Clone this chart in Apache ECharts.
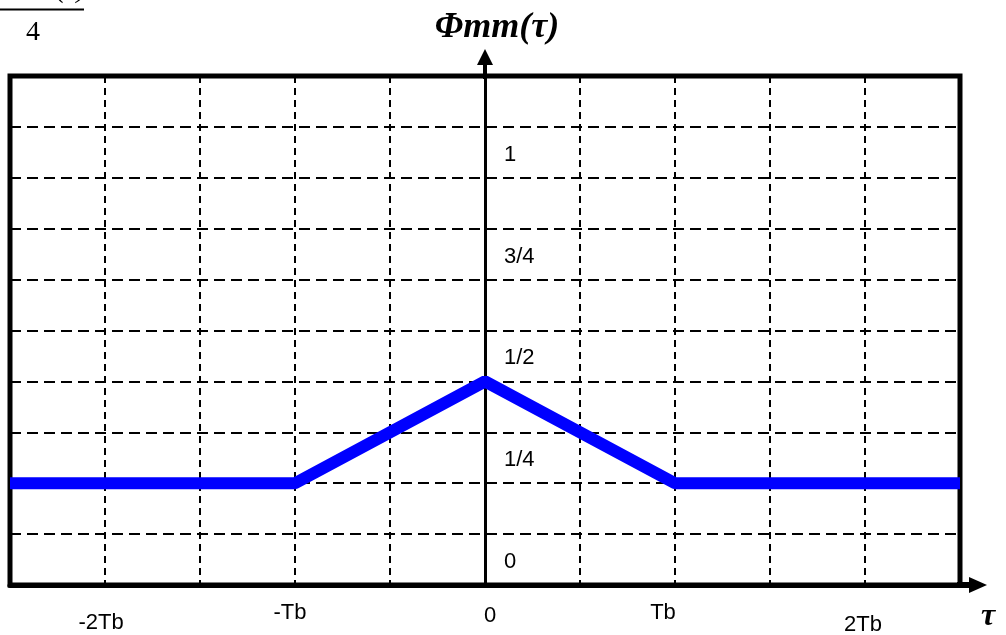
<!DOCTYPE html>
<html>
<head>
<meta charset="utf-8">
<script src="https://cdn.jsdelivr.net/npm/echarts@6/dist/echarts.min.js"></script>
<style>
  html, body { margin: 0; padding: 0; background: #fff; }
  #chart { width: 1006px; height: 635px; }
</style>
</head>
<body>
<div id="chart"></div>
<script>
// tau in units of Tb/2
var tauValues = [-5, -2, 0, 2, 5];
var phiValues = [0.25, 0.25, 0.5, 0.25, 0.25];

var xLabelValues = [-4, -2, 0, 2, 4];
var xLabelTexts = ['-2Tb', '-Tb', '0', 'Tb', '2Tb'];
var yLabelValues = [0, 0.25, 0.5, 0.75, 1];
var yLabelTexts = ['0', '1/4', '1/2', '3/4', '1'];

var chart = echarts.init(document.getElementById('chart'));

var lineData = tauValues.map(function (t, i) { return [t, phiValues[i]]; });

// arrow head + short shaft, tip pointing up
var yArrow = 'path://M8,0 L16,16 L10,16 L10,30 L6,30 L6,16 L0,16 Z';
var xArrow = 'path://M8,0 L16,18 L11,18 L11,30 L5,30 L5,18 L0,18 Z';

var labelFont = 'Liberation Sans, Arial, sans-serif';
var serifFont = 'Liberation Serif, Times New Roman, serif';

function xRich(pad) {
  return { fontFamily: labelFont, fontSize: 22, color: '#000', padding: pad };
}

var option = {
  animation: false,
  backgroundColor: '#fff',
  grid: {
    show: true,
    left: 10,
    right: 46,
    top: 76,
    bottom: 50,
    outerBoundsMode: 'none',
    containLabel: false,
    borderColor: '#000',
    borderWidth: 5,
    backgroundColor: 'transparent'
  },
  xAxis: {
    type: 'value',
    min: -5,
    max: 5,
    interval: 1,
    name: '\nτ',
    nameLocation: 'end',
    nameGap: 21,
    nameTextStyle: {
      fontFamily: serifFont,
      fontStyle: 'italic',
      fontWeight: 'bold',
      fontSize: 32,
      lineHeight: 64,
      color: '#000',
      verticalAlign: 'middle'
    },
    axisLine: {
      onZero: false,
      lineStyle: { color: '#000', width: 5 },
      symbol: ['none', xArrow],
      symbolSize: [16, 30],
      symbolOffset: [0, 12]
    },
    axisTick: { show: false },
    axisLabel: {
      margin: 10,
      color: '#000',
      fontFamily: labelFont,
      fontSize: 22,
      showMinLabel: true,
      showMaxLabel: true,
      formatter: function (v) {
        var i = xLabelValues.indexOf(v);
        return i < 0 ? '' : '{l' + i + '|' + xLabelTexts[i] + '}';
      },
      rich: {
        l0: xRich([17, 8, 0, 0]),
        l1: xRich([7, 10, 0, 0]),
        l2: xRich([10, 0, 0, 10]),
        l3: xRich([7, 24, 0, 0]),
        l4: xRich([19, 4, 0, 0])
      }
    },
    splitLine: {
      show: true,
      lineStyle: { color: '#000', width: 2, type: [7, 5] }
    }
  },
  yAxis: {
    type: 'value',
    min: 0,
    max: 1.25,
    interval: 0.125,
    name: 'Φmm(τ)',
    nameLocation: 'end',
    nameGap: 30,
    nameTextStyle: {
      fontFamily: serifFont,
      fontStyle: 'italic',
      fontWeight: 'bold',
      fontSize: 36,
      color: '#000',
      padding: [0, 0, 0, 24]
    },
    axisLine: {
      onZero: true,
      lineStyle: { color: '#000', width: 3 },
      symbol: ['none', yArrow],
      symbolSize: [16, 30],
      symbolOffset: [0, 12]
    },
    axisTick: { show: false },
    axisLabel: {
      inside: true,
      margin: 494,
      color: '#000',
      fontFamily: labelFont,
      fontSize: 22,
      lineHeight: 46,
      formatter: function (v) {
        var i = yLabelValues.indexOf(v);
        return i < 0 ? '' : yLabelTexts[i] + '\n ';
      }
    },
    splitLine: {
      show: true,
      lineStyle: { color: '#000', width: 2, type: [11, 6] }
    }
  },
  series: [{
    type: 'line',
    data: lineData,
    symbol: 'none',
    color: '#0000ff',
    lineStyle: { color: '#0000ff', width: 12 },
    z: 1
  }],
  graphic: [
    {
      type: 'text',
      left: 18,
      top: -26,
      style: {
        text: 'Φb(τ)',
        fontFamily: serifFont,
        fontStyle: 'italic',
        fontSize: 30,
        fill: '#000'
      }
    },
    {
      type: 'line',
      shape: { x1: 0, y1: 9.5, x2: 84, y2: 9.5 },
      style: { stroke: '#000', lineWidth: 2 }
    },
    {
      type: 'text',
      x: 33,
      y: 33,
      style: {
        text: '4',
        fontFamily: serifFont,
        fontSize: 28,
        fill: '#000',
        align: 'center',
        verticalAlign: 'middle'
      }
    }
  ]
};

chart.setOption(option);
</script>
</body>
</html>
